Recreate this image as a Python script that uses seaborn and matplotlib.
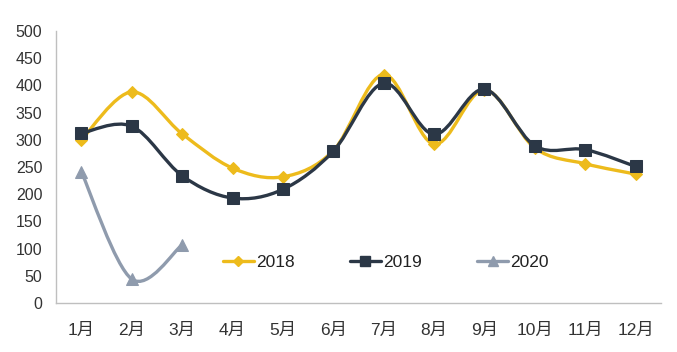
import numpy as np
import pandas as pd
import matplotlib
matplotlib.use('Agg')
import matplotlib.pyplot as plt
import seaborn as sns
from matplotlib.path import Path
from matplotlib.patches import PathPatch
from matplotlib.lines import Line2D

# ===== DATA =====
months = ['1月', '2月', '3月', '4月', '5月', '6月', '7月', '8月', '9月', '10月', '11月', '12月']
v2018 = [300, 388, 311, 248, 232, 280, 420, 292, 392, 285, 256, 237]
v2019 = [312, 325, 234, 193, 209, 279, 404, 310, 393, 289, 282, 251]
v2020 = [241, 44, 107]

# ===== STYLE =====
sns.set_style('white')
plt.rcParams['font.family'] = ['Liberation Sans', 'Noto Sans CJK SC', 'DejaVu Sans']

series = [
    ('2018', v2018, '#EDBB1C', 'D', 6),
    ('2019', v2019, '#2B3746', 's', 9),
    ('2020', v2020, '#8F9BAD', '^', 8.5),
]


def smooth_path(xs, ys):
    # excel style smoothed line: cubic bezier through the points
    pts = np.column_stack([xs, ys]).astype(float)
    verts = [pts[0]]
    codes = [Path.MOVETO]
    n = len(pts)
    for i in range(n - 1):
        p0 = pts[max(i - 1, 0)]
        p1 = pts[i]
        p2 = pts[i + 1]
        p3 = pts[min(i + 2, n - 1)]
        verts += [p1 + (p2 - p0) / 6, p2 - (p3 - p1) / 6, p2]
        codes += [Path.CURVE4] * 3
    return Path(verts, codes)


fig = plt.figure(figsize=(6.77, 3.52), dpi=100)
ax = fig.add_axes([0.083, 0.139, 0.893, 0.773])

handles = []
for name, vals, color, marker, ms in series:
    x = np.arange(len(vals))
    ax.add_patch(PathPatch(smooth_path(x, vals), facecolor='none', edgecolor=color,
                           lw=2.4, zorder=2, capstyle='round'))
    df = pd.DataFrame({'x': x, 'y': vals})
    sns.lineplot(data=df, x='x', y='y', ax=ax, color=color, marker=marker,
                 markersize=ms, markeredgecolor=color, linestyle='none', zorder=3)
    handles.append(Line2D([], [], color=color, lw=2.4, marker=marker,
                          markersize=ms * 0.8, markeredgecolor=color, label=name))

# ===== AXES =====
ax.set_xlim(-0.5, 11.5)
ax.set_ylim(0, 500)
ax.set_yticks(range(0, 501, 50))
ax.set_xticks(range(12))
ax.set_xticklabels(months)
ax.set_xticks(np.arange(-0.5, 12, 1), minor=True)
ax.tick_params(axis='x', which='major', length=0, pad=14, labelsize=12.5, labelcolor='#333333')
ax.tick_params(axis='x', which='minor', length=5, color='#BFBFBF', direction='out')
ax.tick_params(axis='y', length=4, color='#BFBFBF', labelsize=11.5, labelcolor='#333333', pad=6)
ax.set_xlabel('')
ax.set_ylabel('')
for s in ['top', 'right']:
    ax.spines[s].set_visible(False)
for s in ['left', 'bottom']:
    ax.spines[s].set_color('#BFBFBF')
    ax.spines[s].set_linewidth(1)

ax.legend(handles=handles, loc='center', bbox_to_anchor=(0.545, 0.15), ncol=3,
          frameon=False, fontsize=12.5, handlelength=1.8, handletextpad=0.1,
          columnspacing=3.2, labelcolor='#222222')

fig.savefig('out.png', dpi=100)
